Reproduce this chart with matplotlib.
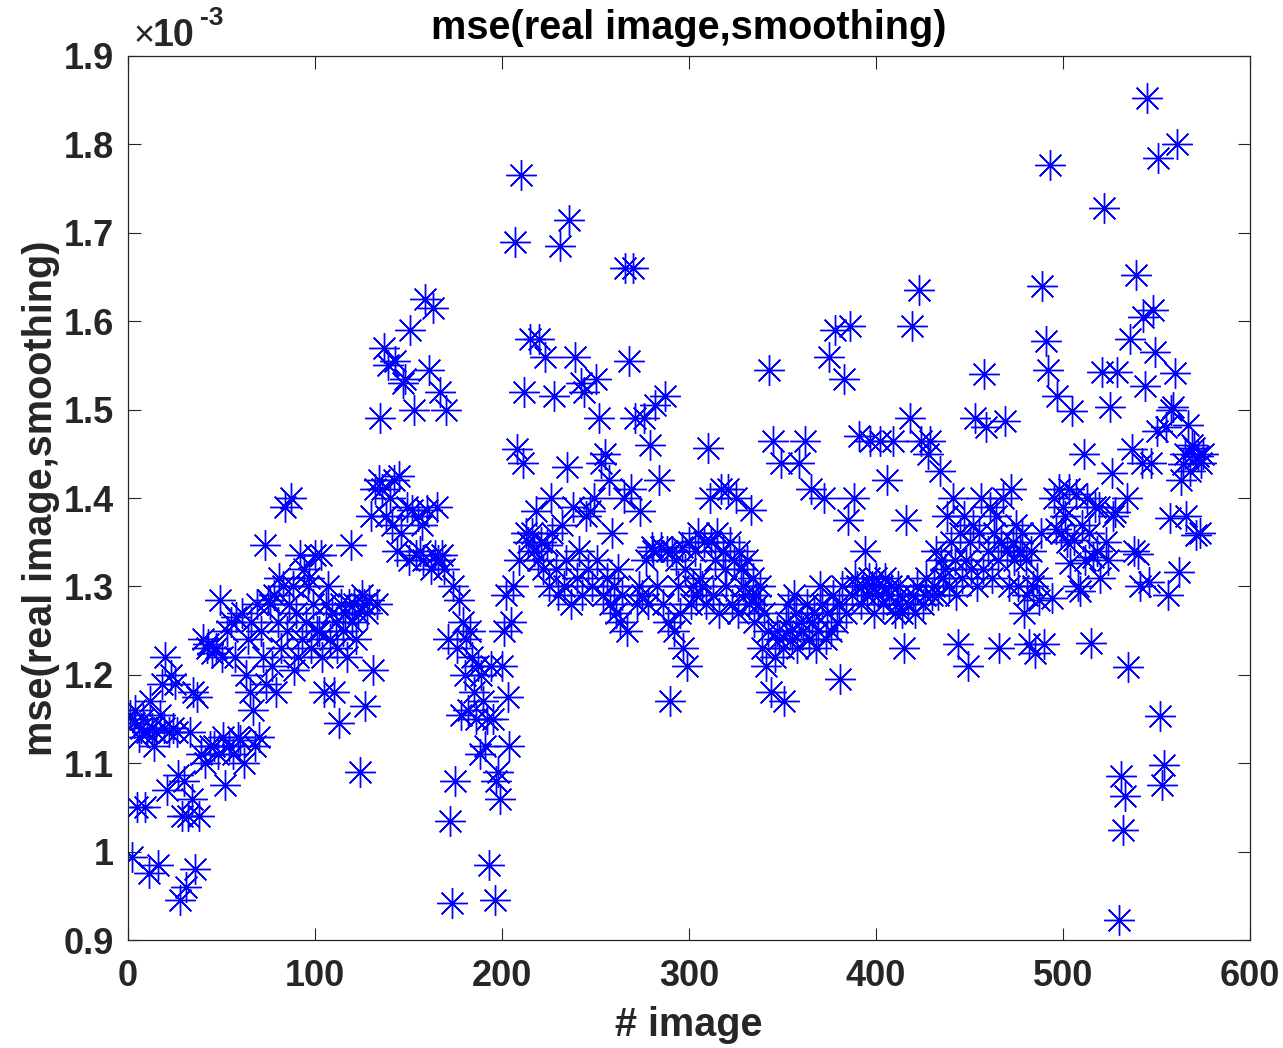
import numpy as np
import matplotlib
matplotlib.use("Agg")
import matplotlib.pyplot as plt
from matplotlib.ticker import FuncFormatter

# MSE values (units of 1e-3), one per image index
mse = [
1.155, 0.994, 1.145, 1.16, 1.05, 1.13, 1.14, 1.15, 1.05, 1.135,
0.976, 1.17, 1.14, 1.12, 1.135, 0.985, 1.155, 1.19, 1.14, 1.22,
1.07, 1.135, 1.20, 1.14, 1.19, 1.135, 1.087, 0.945, 1.04, 1.08,
0.96, 1.04, 1.135, 1.06, 1.18, 0.98, 1.175, 1.04, 1.11, 1.24,
1.10, 1.23, 1.235, 1.12, 1.225, 1.12, 1.23, 1.11, 1.285, 1.22,
1.13, 1.075, 1.25, 1.12, 1.26, 1.11, 1.22, 1.265, 1.13, 1.126,
1.27, 1.10, 1.20, 1.24, 1.18, 1.26, 1.16, 1.12, 1.28, 1.13,
1.25, 1.22, 1.347, 1.19, 1.285, 1.28, 1.21, 1.29, 1.18, 1.26,
1.31, 1.23, 1.30, 1.39, 1.25, 1.28, 1.40, 1.30, 1.205, 1.27,
1.22, 1.335, 1.24, 1.32, 1.26, 1.30, 1.31, 1.23, 1.28, 1.335,
1.25, 1.25, 1.335, 1.22, 1.18, 1.28, 1.30, 1.24, 1.27, 1.18,
1.26, 1.23, 1.145, 1.28, 1.25, 1.27, 1.22, 1.28, 1.347, 1.26,
1.28, 1.24, 1.27, 1.09, 1.29, 1.28, 1.165, 1.27, 1.285, 1.38,
1.205, 1.41, 1.28, 1.42, 1.49, 1.41, 1.57, 1.38, 1.55, 1.40,
1.37, 1.42, 1.555, 1.34, 1.425, 1.36, 1.53, 1.535, 1.39, 1.33,
1.59, 1.386, 1.50, 1.335, 1.38, 1.34, 1.37, 1.33, 1.625, 1.386,
1.545, 1.32, 1.615, 1.335, 1.39, 1.33, 1.52, 1.335, 1.32, 1.50,
1.24, 1.035, 0.942, 1.30, 1.08, 1.23, 1.285, 1.155, 1.26, 1.20,
1.24, 1.16, 1.25, 1.22, 1.18, 1.15, 1.21, 1.11, 1.20, 1.17,
1.12, 1.15, 0.985, 1.21, 1.15, 0.945, 1.08, 1.09, 1.06, 1.21,
1.25, 1.29, 1.175, 1.12, 1.26, 1.30, 1.69, 1.455, 1.33, 1.765,
1.44, 1.52, 1.36, 1.35, 1.58, 1.36, 1.34, 1.385, 1.33, 1.58,
1.35, 1.32, 1.56, 1.347, 1.30, 1.40, 1.36, 1.515, 1.32, 1.29,
1.685, 1.37, 1.30, 1.33, 1.435, 1.715, 1.28, 1.39, 1.56, 1.31,
1.34, 1.53, 1.29, 1.52, 1.38, 1.32, 1.385, 1.30, 1.40, 1.535,
1.33, 1.49, 1.44, 1.29, 1.45, 1.31, 1.42, 1.28, 1.36, 1.30,
1.27, 1.32, 1.26, 1.29, 1.40, 1.66, 1.25, 1.555, 1.41, 1.66,
1.49, 1.28, 1.30, 1.385, 1.29, 1.49, 1.33, 1.28, 1.46, 1.345,
1.34, 1.505, 1.30, 1.42, 1.345, 1.28, 1.515, 1.34, 1.26, 1.17,
1.34, 1.25, 1.33, 1.30, 1.27, 1.345, 1.23, 1.32, 1.21, 1.35,
1.28, 1.30, 1.34, 1.29, 1.36, 1.31, 1.30, 1.35, 1.28, 1.457,
1.40, 1.35, 1.29, 1.33, 1.36, 1.27, 1.41, 1.34, 1.32, 1.30,
1.41, 1.35, 1.28, 1.33, 1.40, 1.27, 1.34, 1.32, 1.30, 1.29,
1.33, 1.28, 1.386, 1.31, 1.26, 1.29, 1.28, 1.30, 1.23, 1.27,
1.21, 1.25, 1.545, 1.18, 1.465, 1.22, 1.25, 1.24, 1.44, 1.23,
1.17, 1.26, 1.28, 1.25, 1.24, 1.29, 1.27, 1.23, 1.44, 1.26,
1.25, 1.465, 1.28, 1.24, 1.41, 1.26, 1.27, 1.23, 1.25, 1.30,
1.28, 1.40, 1.24, 1.27, 1.56, 1.25, 1.29, 1.59, 1.26, 1.28,
1.195, 1.30, 1.535, 1.27, 1.375, 1.595, 1.29, 1.40, 1.31, 1.30,
1.47, 1.28, 1.30, 1.34, 1.29, 1.31, 1.465, 1.30, 1.27, 1.31,
1.29, 1.465, 1.30, 1.28, 1.31, 1.42, 1.29, 1.30, 1.465, 1.27,
1.28, 1.30, 1.29, 1.27, 1.23, 1.375, 1.28, 1.49, 1.595, 1.29,
1.27, 1.30, 1.635, 1.465, 1.28, 1.29, 1.31, 1.45, 1.465, 1.29,
1.30, 1.34, 1.29, 1.43, 1.33, 1.31, 1.32, 1.38, 1.30, 1.35,
1.40, 1.33, 1.29, 1.235, 1.36, 1.31, 1.38, 1.33, 1.21, 1.35,
1.32, 1.37, 1.49, 1.30, 1.36, 1.40, 1.32, 1.54, 1.48, 1.34,
1.39, 1.31, 1.36, 1.38, 1.33, 1.23, 1.35, 1.40, 1.487, 1.34,
1.30, 1.41, 1.35, 1.33, 1.37, 1.30, 1.34, 1.36, 1.27, 1.33,
1.29, 1.235, 1.34, 1.30, 1.225, 1.31, 1.285, 1.36, 1.64, 1.235,
1.578, 1.545, 1.777, 1.287, 1.40, 1.365, 1.515, 1.41, 1.36, 1.39,
1.38, 1.35, 1.41, 1.327, 1.498, 1.352, 1.405, 1.30, 1.295, 1.37,
1.45, 1.33, 1.40, 1.36, 1.236, 1.333, 1.39, 1.34, 1.39, 1.31,
1.543, 1.728, 1.35, 1.33, 1.503, 1.428, 1.38, 1.384, 1.543, 0.923,
1.085, 1.025, 1.063, 1.40, 1.209, 1.58, 1.455, 1.34, 1.652, 1.337,
1.30, 1.44, 1.605, 1.527, 1.853, 1.305, 1.44, 1.613, 1.565, 1.476,
1.785, 1.153, 1.075, 1.098, 1.48, 1.29, 1.377, 1.50, 1.503, 1.541,
1.80, 1.316, 1.42, 1.438, 1.45, 1.38, 1.483, 1.43, 1.46, 1.457,
1.358, 1.447, 1.36, 1.44, 1.45,
]
image_idx = np.arange(1, len(mse) + 1)

x_ticks = [0, 100, 200, 300, 400, 500, 600]
y_ticks = [0.9, 1.0, 1.1, 1.2, 1.3, 1.4, 1.5, 1.6, 1.7, 1.8, 1.9]

plt.rcParams['font.family'] = ['Liberation Sans', 'DejaVu Sans']
dark = (0.15, 0.15, 0.15)

fig = plt.figure(figsize=(12.83, 10.48), dpi=100)
ax = fig.add_axes([128/1283, 1-940/1048, (1250-128)/1283, (940-56)/1048])

ax.plot(image_idx, mse, linestyle='none', marker=(8, 2, 0), markersize=22,
        markeredgewidth=1.0, color=(0, 0, 1))

ax.set_xlim(0, 600)
ax.set_ylim(0.9, 1.9)
ax.set_xticks(x_ticks)
ax.set_yticks(y_ticks)

def fmt(v, pos):
    s = f"{v:.1f}"
    return s[:-2] if s.endswith(".0") else s

ax.yaxis.set_major_formatter(FuncFormatter(fmt))
ax.tick_params(direction='in', length=9, width=0.8, top=True, right=True,
               labelsize=26, colors=dark)
ax.tick_params(axis='x', pad=14)
ax.tick_params(axis='y', pad=10)
for lab in ax.get_xticklabels() + ax.get_yticklabels():
    lab.set_fontweight('bold')
for sp in ax.spines.values():
    sp.set_color(dark)
    sp.set_linewidth(0.9)

ax.set_title('mse(real image,smoothing)', fontsize=28.5, fontweight='bold',
             color='black', pad=12)
ax.set_xlabel('# image', fontsize=28.5, fontweight='bold', color=dark, labelpad=8)
ax.set_ylabel('mse(real image,smoothing)', fontsize=28.5, fontweight='bold',
              color=dark, labelpad=3)

fig.text(134/1283, 1-46/1048, '×', fontsize=26, fontweight='normal',
         color=dark, va='baseline', ha='left')
fig.text(153/1283, 1-46/1048, '10', fontsize=27, fontweight='bold',
         color=dark, va='baseline', ha='left')
fig.text(200/1283, 1-25/1048, '-3', fontsize=19, fontweight='bold',
         color=dark, va='baseline', ha='left')

fig.savefig('out.png', dpi=100)
